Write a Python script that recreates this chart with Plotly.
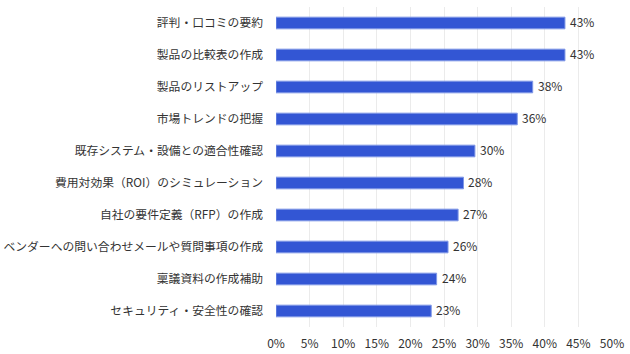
import plotly.graph_objects as go

categories = [
    "評判・口コミの要約",
    "製品の比較表の作成",
    "製品のリストアップ",
    "市場トレンドの把握",
    "既存システム・設備との適合性確認",
    "費用対効果（ROI）のシミュレーション",
    "自社の要件定義（RFP）の作成",
    "ベンダーへの問い合わせメールや質問事項の作成",
    "稟議資料の作成補助",
    "セキュリティ・安全性の確認",
]
values = [43.0, 43.0, 38.2, 35.9, 29.6, 27.9, 27.1, 25.6, 23.9, 23.1]
labels = ["43%", "43%", "38%", "36%", "30%", "28%", "27%", "26%", "24%", "23%"]
tick_vals = [0, 5, 10, 15, 20, 25, 30, 35, 40, 45, 50]
tick_text = ["0%", "5%", "10%", "15%", "20%", "25%", "30%", "35%", "40%", "45%", "50%"]

font = "Noto Sans CJK JP"

fig = go.Figure()
fig.add_trace(go.Bar(
    y=categories,
    x=values,
    orientation="h",
    marker=dict(color="#3356d4", line=dict(color="#7f97e6", width=1)),
    hoverinfo="skip",
))

for cat, val, lab in zip(categories, values, labels):
    fig.add_annotation(
        x=val, y=cat, xref="x", yref="y",
        text=lab, showarrow=False,
        xanchor="left", yanchor="middle",
        xshift=3, yshift=2,
        font=dict(family=font, size=12, color="#333333"),
    )

fig.update_layout(
    width=630, height=354,
    margin=dict(l=276, r=18, t=7, b=27, autoexpand=False),
    paper_bgcolor="white",
    plot_bgcolor="white",
    bargap=0.635,
    showlegend=False,
    font=dict(family=font, size=12, color="#333333"),
    xaxis=dict(
        range=[0, 50],
        tickvals=tick_vals,
        ticktext=tick_text,
        showgrid=True,
        gridcolor="#ebebeb",
        gridwidth=1,
        zeroline=False,
        showline=False,
        automargin=False,
        tickfont=dict(family=font, size=12, color="#333333"),
        ticks="",
        ticklabelstandoff=8,
    ),
    yaxis=dict(
        autorange="reversed",
        showgrid=False,
        zeroline=False,
        showline=False,
        automargin=False,
        ticks="",
        ticklabelstandoff=12,
        tickfont=dict(family=font, size=11.8, color="#333333"),
    ),
)

fig.write_html("out.html")
